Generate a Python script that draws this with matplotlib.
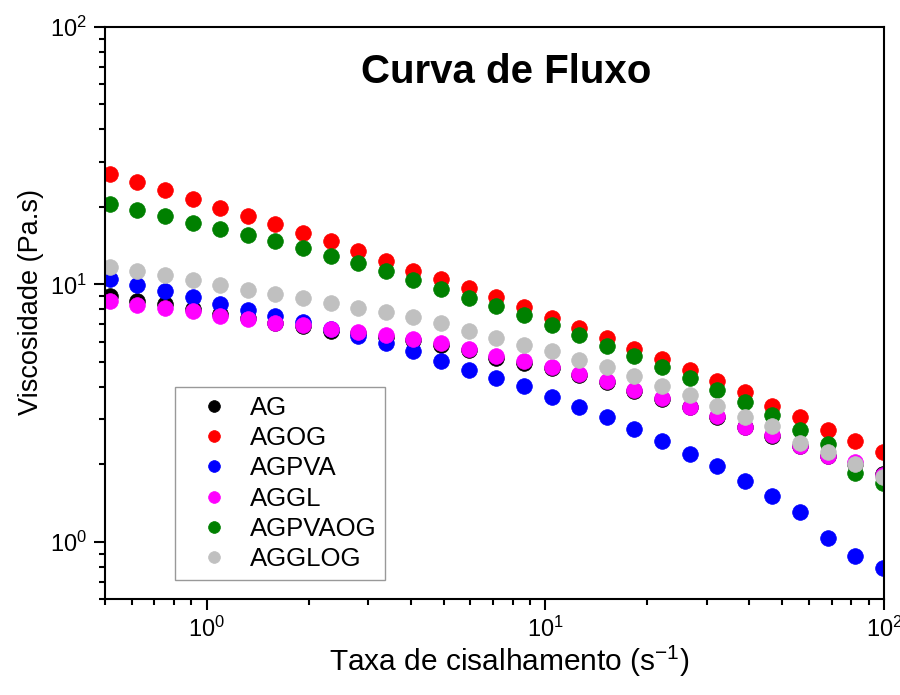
import matplotlib
matplotlib.use("Agg")
import matplotlib.pyplot as plt
from matplotlib.ticker import NullFormatter, LogLocator

plt.rcParams['font.family'] = ['Liberation Sans', 'DejaVu Sans']
plt.rcParams['mathtext.fontset'] = 'custom'
plt.rcParams['mathtext.rm'] = 'Liberation Sans'
plt.rcParams['mathtext.it'] = 'Liberation Sans:italic'
plt.rcParams['mathtext.bf'] = 'Liberation Sans:bold'

# Shear rate (s^-1)
shear_rate = [0.516, 0.623, 0.752, 0.907, 1.094, 1.321, 1.594, 1.922, 2.319, 2.799,
              3.377, 4.074, 4.915, 5.932, 7.157, 8.636, 10.42, 12.57, 15.17, 18.30,
              22.08, 26.65, 32.14, 38.79, 46.80, 56.47, 68.13, 82.21, 99.2]

# Viscosity (Pa.s)
AG = [8.98, 8.63, 8.36, 8.03, 7.68, 7.41, 7.11, 6.87, 6.62, 6.45,
      6.25, 6.08, 5.84, 5.54, 5.20, 4.97, 4.73, 4.43, 4.17, 3.87,
      3.60, 3.34, 3.06, 2.79, 2.57, 2.36, 2.16, 2.01, 1.84]
AGOG = [26.8, 25.0, 23.2, 21.5, 19.9, 18.5, 17.2, 15.9, 14.7, 13.5,
        12.3, 11.3, 10.5, 9.67, 8.90, 8.14, 7.42, 6.79, 6.20, 5.62,
        5.14, 4.66, 4.20, 3.81, 3.38, 3.05, 2.73, 2.47, 2.23]
AGPVA = [10.5, 9.97, 9.43, 8.97, 8.41, 7.97, 7.55, 7.16, 6.72, 6.33,
         5.92, 5.50, 5.06, 4.66, 4.32, 4.04, 3.64, 3.35, 3.05, 2.75,
         2.47, 2.20, 1.97, 1.72, 1.51, 1.31, 1.04, 0.882, 0.794]
AGGL = [8.66, 8.34, 8.12, 7.92, 7.57, 7.35, 7.10, 6.93, 6.72, 6.56,
        6.35, 6.15, 5.91, 5.60, 5.29, 5.05, 4.80, 4.47, 4.20, 3.89,
        3.62, 3.35, 3.07, 2.80, 2.59, 2.36, 2.16, 2.05, 1.82]
AGPVAOG = [20.5, 19.4, 18.4, 17.4, 16.4, 15.5, 14.7, 13.8, 12.9, 12.1,
           11.3, 10.4, 9.59, 8.88, 8.26, 7.64, 6.93, 6.37, 5.79, 5.29,
           4.78, 4.34, 3.89, 3.48, 3.10, 2.72, 2.41, 1.86, 1.69]
AGGLOG = [11.7, 11.3, 10.9, 10.4, 9.97, 9.54, 9.20, 8.82, 8.46, 8.12,
          7.80, 7.46, 7.07, 6.62, 6.20, 5.84, 5.50, 5.09, 4.77, 4.39,
          4.04, 3.71, 3.38, 3.06, 2.81, 2.43, 2.23, 2.00, 1.79]

series_names = ['AG', 'AGOG', 'AGPVA', 'AGGL', 'AGPVAOG', 'AGGLOG']
series_values = [AG, AGOG, AGPVA, AGGL, AGPVAOG, AGGLOG]
series_colors = ['#000000', '#ff0000', '#0000ff', '#ff00ff', '#008000', '#c0c0c0']

fig = plt.figure(figsize=(9.0, 6.95), dpi=100)
ax = fig.add_axes([105/900, 1 - 599/695, (884 - 105)/900, (599 - 27)/695])

for name, vals, col in zip(series_names, series_values, series_colors):
    ax.plot(shear_rate, vals, linestyle='none', marker='o', markersize=11.3,
            markerfacecolor=col, markeredgecolor=col, markeredgewidth=0.5,
            label=name, clip_on=True)

ax.set_xscale('log')
ax.set_yscale('log')
ax.set_xlim(0.5, 100)
ax.set_ylim(0.6, 100)

for sp in ax.spines.values():
    sp.set_linewidth(1.5)

ax.xaxis.set_major_locator(LogLocator(base=10, numticks=10))
ax.yaxis.set_major_locator(LogLocator(base=10, numticks=10))
ax.xaxis.set_minor_formatter(NullFormatter())
ax.yaxis.set_minor_formatter(NullFormatter())
ax.tick_params(which='major', direction='out', length=8, width=1.5,
               labelsize=17, top=False, right=False, pad=5)
ax.tick_params(which='minor', direction='out', length=4.3, width=1.5,
               top=False, right=False)

ax.set_xlabel('Taxa de cisalhamento (s$^{-1}$)', fontsize=21.5)
ax.set_ylabel('Viscosidade (Pa.s)', fontsize=19.5)
ax.xaxis.set_label_coords((509 - 105) / 779, (599 - 644) / 572)
ax.yaxis.set_label_coords((44 - 105) / 779, (599 - 302) / 572)

ax.text(0.515, 0.921, 'Curva de Fluxo', transform=ax.transAxes,
        ha='center', va='center', fontsize=29, fontweight='bold')

leg = ax.legend(loc='upper left', bbox_to_anchor=(0.0899, 0.3706),
                borderaxespad=0, fontsize=18.5, frameon=True, fancybox=False,
                edgecolor='#808080', markerscale=0.75, handletextpad=0.23,
                labelspacing=0.24, borderpad=0.35, handlelength=2.33)
leg.get_frame().set_linewidth(1.0)

fig.savefig('out.png', dpi=100, facecolor='white')
